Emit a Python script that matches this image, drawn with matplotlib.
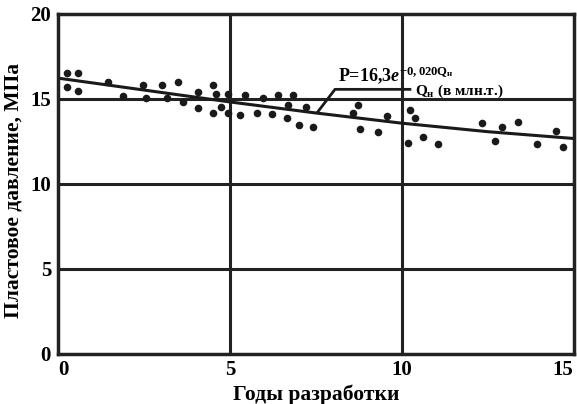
import matplotlib
matplotlib.use("Agg")
import matplotlib.pyplot as plt

# Data
years = [0.25, 0.59, 0.25, 0.57, 1.46, 1.88, 2.46, 2.56, 3.02, 3.48, 3.16, 3.65,
         4.08, 4.08, 4.50, 4.60, 4.50, 4.73, 4.95, 4.94, 5.44, 5.30, 5.78, 5.97,
         6.41, 6.22, 6.85, 6.70, 6.65, 7.22, 7.02, 7.43, 8.74, 8.59, 8.79, 9.31,
         9.57, 10.24, 10.39, 10.17, 10.61, 11.06, 12.34, 12.93, 12.71, 13.39,
         13.93, 14.48, 14.68]
pressure = [16.53, 16.48, 15.66, 15.44, 15.99, 15.15, 15.79, 15.01, 15.79, 15.99,
            15.05, 14.78, 15.36, 14.42, 15.79, 15.26, 14.16, 14.52, 15.26, 14.13,
            15.21, 14.03, 14.13, 15.05, 15.21, 14.07, 15.21, 14.62, 13.84, 14.52,
            13.44, 13.34, 14.62, 14.13, 13.21, 13.05, 13.97, 14.32, 13.84, 12.40,
            12.72, 12.31, 13.54, 13.31, 12.50, 13.64, 12.32, 13.09, 12.16]

trend_years = [0, 2.5, 5, 7.5, 10, 12.5, 15]
trend_pressure = [16.2, 15.5, 14.8, 14.15, 13.55, 13.05, 12.65]

x_ticks = [0, 5, 10, 15]
y_ticks = [0, 5, 10, 15, 20]

plt.rcParams['font.family'] = ['Liberation Serif', 'DejaVu Serif']
plt.rcParams['font.weight'] = 'bold'
plt.rcParams['mathtext.fontset'] = 'custom'
plt.rcParams['mathtext.rm'] = 'Liberation Serif:bold'
plt.rcParams['mathtext.it'] = 'Liberation Serif:italic:bold'
plt.rcParams['mathtext.bf'] = 'Liberation Serif:bold'
plt.rcParams['mathtext.default'] = 'regular'

fig = plt.figure(figsize=(5.77, 4.04), dpi=100)
ax = fig.add_axes([0.1005, 0.125, 0.8935, 0.8415])

ax.set_xlim(0, 15)
ax.set_ylim(0, 20)
ax.set_xticks(x_ticks)
ax.set_yticks(y_ticks)
ax.tick_params(length=0, labelsize=15, pad=5)
for lbl in ax.get_xticklabels() + ax.get_yticklabels():
    lbl.set_fontweight('bold')
ax.get_xticklabels()[-1].set_horizontalalignment('right')
ax.get_xticklabels()[0].set_horizontalalignment('left')

for v in x_ticks[1:-1]:
    ax.axvline(v, color='#222222', lw=2.2, zorder=1)
for v in y_ticks[1:-1]:
    ax.axhline(v, color='#222222', lw=2.2, zorder=1)
for s in ax.spines.values():
    s.set_linewidth(2.5)
    s.set_color('#222222')

ax.scatter(years, pressure, s=30, color='#1a1a1a', zorder=3, linewidths=0)
ax.plot(trend_years, trend_pressure, color='#1a1a1a', lw=2.2, zorder=2)

# leader line for formula
ax.plot([7.56, 8.06, 10.24], [14.22, 15.54, 15.54], color='#1a1a1a', lw=2.0, zorder=2)
ax.text(8.15, 15.75, r'P=16,3$\mathit{e}^{-0,020Q_{н}}$', fontsize=13,
        fontweight='bold', ha='left', va='bottom')
ax.text(10.4, 15.4, r'Q$_{н}$ (в млн.т.)', fontsize=11, fontweight='bold',
        ha='left', va='center')

ax.set_xlabel('Годы разработки', fontsize=15.5, fontweight='bold', labelpad=3)
ax.set_ylabel('Пластовое давление, МПа', fontsize=15.5, fontweight='bold', labelpad=3)
ax.yaxis.set_label_coords(-0.066, 0.48)

fig.savefig('out.png', dpi=100)
